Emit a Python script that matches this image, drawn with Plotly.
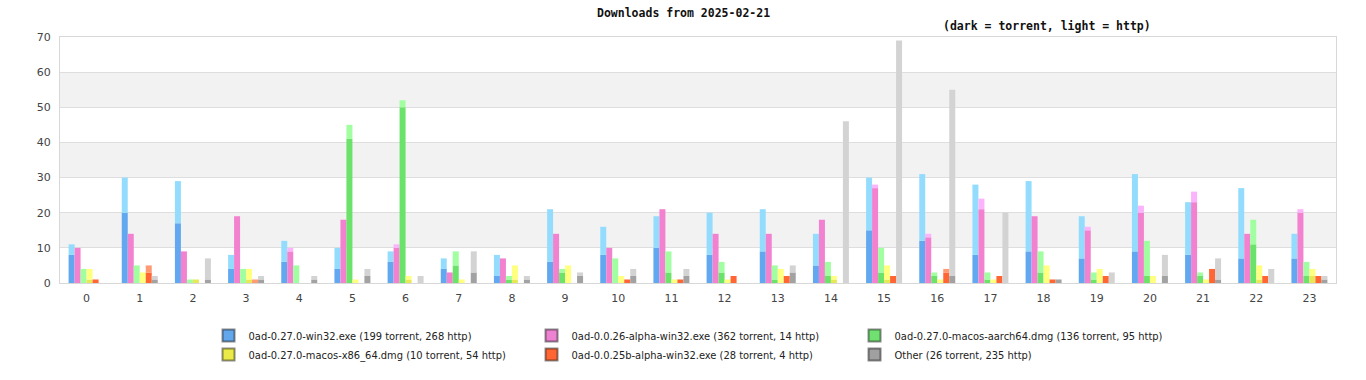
import plotly.graph_objects as go

hours = [str(h) for h in range(24)]

series_names = [
    "0ad-0.27.0-win32.exe (199 torrent, 268 http)",
    "0ad-0.0.26-alpha-win32.exe (362 torrent, 14 http)",
    "0ad-0.27.0-macos-aarch64.dmg (136 torrent, 95 http)",
    "0ad-0.27.0-macos-x86_64.dmg (10 torrent, 54 http)",
    "0ad-0.0.25b-alpha-win32.exe (28 torrent, 4 http)",
    "Other (26 torrent, 235 http)",
]

win32_torrent = [8, 20, 17, 4, 6, 4, 6, 4, 2, 6, 8, 10, 8, 9, 5, 15, 12, 8, 9, 7, 9, 8, 7, 7]
win32_http = [3, 10, 12, 4, 6, 6, 3, 3, 6, 15, 8, 9, 12, 12, 9, 15, 19, 20, 20, 12, 22, 15, 20, 7]

a26_torrent = [10, 14, 9, 19, 9, 18, 10, 3, 7, 14, 10, 21, 14, 14, 18, 27, 13, 21, 19, 15, 20, 23, 14, 20]
a26_http = [0, 0, 0, 0, 1, 0, 1, 0, 0, 0, 0, 0, 0, 0, 0, 1, 1, 3, 0, 1, 2, 3, 0, 1]

arm_torrent = [0, 0, 0, 0, 0, 41, 50, 5, 1, 3, 0, 3, 3, 1, 2, 3, 2, 1, 3, 1, 2, 2, 11, 2]
arm_http = [4, 5, 1, 4, 5, 4, 2, 4, 1, 1, 7, 6, 3, 4, 4, 7, 1, 2, 6, 2, 10, 1, 7, 4]

x86_torrent = [1, 0, 1, 1, 0, 0, 1, 0, 1, 0, 0, 0, 0, 0, 1, 1, 0, 0, 0, 0, 0, 0, 1, 2]
x86_http = [3, 3, 0, 3, 0, 1, 1, 1, 4, 5, 2, 1, 1, 4, 1, 4, 1, 1, 5, 4, 2, 1, 4, 2]

a25_torrent = [1, 3, 0, 0, 0, 0, 0, 0, 0, 0, 1, 1, 2, 2, 0, 2, 3, 2, 1, 2, 0, 4, 2, 2]
a25_http = [0, 2, 0, 1, 0, 0, 0, 0, 0, 0, 0, 0, 0, 0, 0, 0, 1, 0, 0, 0, 0, 0, 0, 0]

other_torrent = [0, 1, 1, 1, 1, 2, 0, 3, 1, 2, 2, 2, 0, 3, 0, 0, 2, 0, 1, 0, 2, 1, 0, 1]
other_http = [0, 1, 6, 1, 1, 2, 2, 6, 1, 1, 2, 2, 0, 2, 46, 69, 53, 20, 0, 3, 6, 6, 4, 1]

y_ticks = [0, 10, 20, 30, 40, 50, 60, 70]

dark_colors = ["#62a8f0", "#f281cf", "#6be36b", "#e8e856", "#ff6633", "#a2a2a2"]
light_colors = ["#94dcfd", "#fbb3fb", "#a1ffa1", "#ffff80", "#ff9a72", "#d3d3d3"]
legend_colors = ["#62a6ec", "#ee82d2", "#70e070", "#eaea48", "#ff6633", "#a0a0a0"]

torrents = [win32_torrent, a26_torrent, arm_torrent, x86_torrent, a25_torrent, other_torrent]
https = [win32_http, a26_http, arm_http, x86_http, a25_http, other_http]

fig = go.Figure()

for i in range(6):
    fig.add_trace(go.Bar(
        x=hours, y=torrents[i], offsetgroup=str(i),
        marker=dict(color=dark_colors[i], line=dict(width=0)),
        showlegend=False, hoverinfo="skip",
    ))
    fig.add_trace(go.Bar(
        x=hours, y=https[i], base=torrents[i], offsetgroup=str(i),
        marker=dict(color=light_colors[i], line=dict(width=0)),
        showlegend=False, hoverinfo="skip",
    ))

for i in range(6):
    fig.add_trace(go.Scatter(
        x=[None], y=[None], mode="markers", name=series_names[i],
        marker=dict(symbol="square", size=8, color=legend_colors[i],
                    line=dict(color="rgba(0,0,0,0.45)", width=1)),
    ))

shapes = []
for k in range(1, len(y_ticks) - 1, 2):
    shapes.append(dict(type="rect", xref="paper", yref="y", x0=0, x1=1,
                       y0=y_ticks[k], y1=y_ticks[k + 1],
                       fillcolor="#f2f2f2", line=dict(width=0), layer="below"))

fig.update_layout(
    width=1366, height=380,
    margin=dict(l=60, r=30, t=37, b=96),
    paper_bgcolor="white", plot_bgcolor="white",
    barmode="group", bargap=0.323, bargroupgap=0,
    shapes=shapes,
    font=dict(family="DejaVu Sans", size=11, color="#444"),
    legend=dict(orientation="h", x=0.1164, xanchor="left", y=-0.15, yanchor="top",
                entrywidth=278, entrywidthmode="pixels", traceorder="normal",
                font=dict(family="Liberation Sans Narrow, DejaVu Sans Condensed, sans-serif", size=11, color="#222"),
                itemsizing="constant", tracegroupgap=0),
    annotations=[
        dict(text="<b>Downloads from 2025-02-21</b>", xref="paper", yref="paper",
             x=(683 - 60) / 1276, y=1, yshift=33, showarrow=False,
             font=dict(family="DejaVu Sans Mono", size=11.5, color="#111")),
        dict(text="<b>(dark = torrent, light = http)</b>", xref="paper", yref="paper",
             x=(1153 - 60) / 1276, y=1, yshift=20, showarrow=False,
             font=dict(family="DejaVu Sans Mono", size=11.5, color="#111")),
    ],
)

fig.update_xaxes(type="category", showgrid=False, showline=True, linecolor="#d8d8d8",
                 mirror=True, ticks="outside", ticklen=5, tickcolor="rgba(0,0,0,0)",
                 tickfont=dict(size=11, color="#444"))
fig.update_yaxes(range=[0, 70], tickvals=y_ticks, showgrid=True, gridcolor="#dedede",
                 gridwidth=1, showline=True, linecolor="#d8d8d8", mirror=True,
                 zeroline=False, ticks="outside", ticklen=6, tickcolor="rgba(0,0,0,0)",
                 tickfont=dict(size=11, color="#444"))

fig.write_html("out.html", config={"displayModeBar": False},
               post_script="document.body.style.margin='0';")
